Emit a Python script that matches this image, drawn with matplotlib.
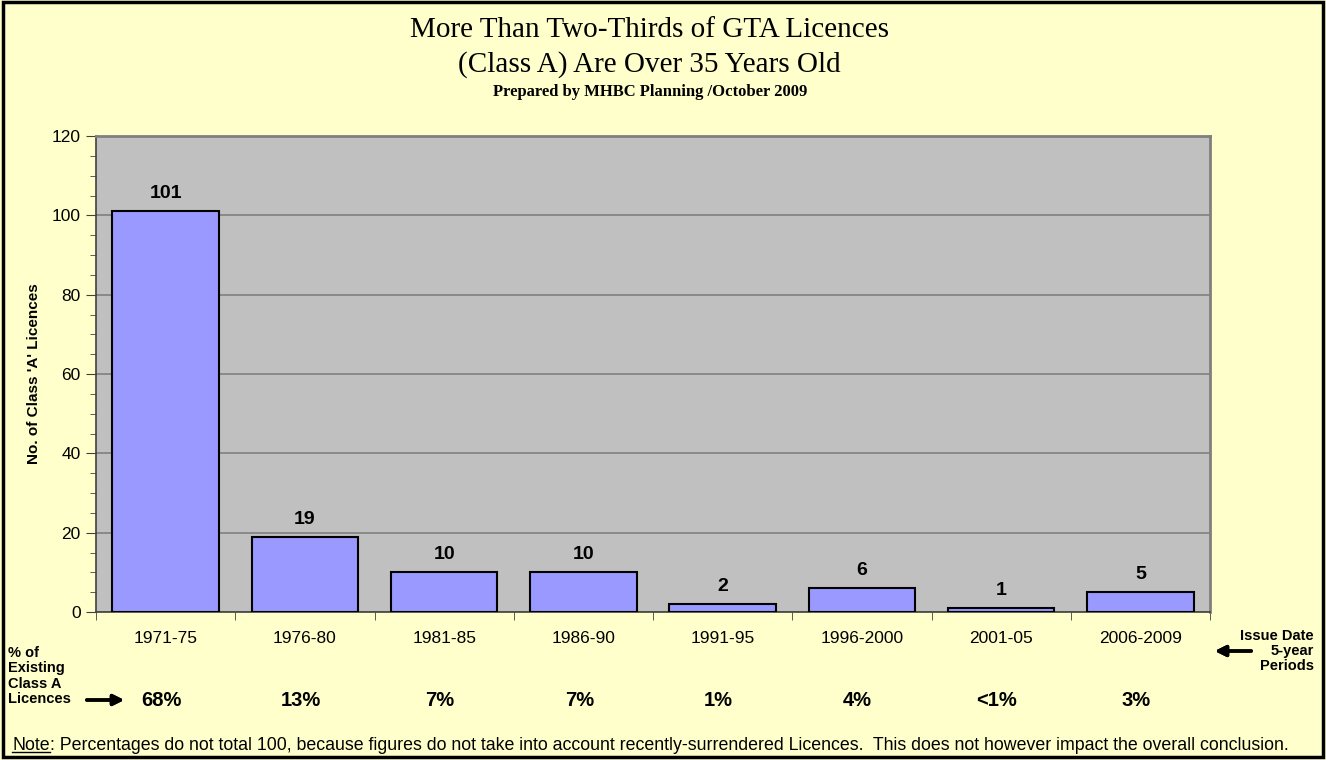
import numpy as np
import matplotlib.pyplot as plt
from matplotlib.patches import Rectangle
from matplotlib.lines import Line2D
import matplotlib.transforms as mtransforms

plt.rcParams['font.family'] = ['Liberation Sans', 'DejaVu Sans']

# data
periods = ["1971-75", "1976-80", "1981-85", "1986-90", "1991-95", "1996-2000", "2001-05", "2006-2009"]
counts = [101, 19, 10, 10, 2, 6, 1, 5]
shares = ["68%", "13%", "7%", "7%", "1%", "4%", "<1%", "3%"]

bg = '#FFFFCC'
fig = plt.figure(figsize=(13.26, 7.6), dpi=100, facecolor=bg)
ax = fig.add_axes([96/1326, 1 - 612/760, 1114/1326, 476/760])
ax.set_facecolor('#C0C0C0')

x = np.arange(len(periods))
ax.bar(x, counts, width=0.765, color='#9999FF', edgecolor='black', linewidth=1.5, zorder=3)
for xi, c in zip(x, counts):
    ax.text(xi, c + 2.3, str(c), ha='center', va='bottom', fontsize=14, fontweight='bold')

ax.set_xlim(-0.5, len(periods) - 0.5)
ax.set_ylim(0, 120)
ax.set_yticks(np.arange(0, 121, 20))
ax.set_yticks(np.arange(0, 121, 5), minor=True)
ax.yaxis.grid(True, color='#808080', linewidth=1.2, zorder=1)
ax.set_axisbelow(True)
ax.tick_params(axis='y', which='major', labelsize=12.5, length=7, color='#404040', pad=4)
ax.tick_params(axis='y', which='minor', length=4, color='#404040')
ax.set_xticks(x)
ax.set_xticklabels(periods, fontsize=12.5)
ax.tick_params(axis='x', which='major', length=0, pad=14)
ax.set_xticks(np.arange(-0.5, len(periods)), minor=True)
ax.tick_params(axis='x', which='minor', length=6, color='#404040')
for s in ['left', 'bottom']:
    ax.spines[s].set_color('#404040')
    ax.spines[s].set_linewidth(1.2)
for s in ['top', 'right']:
    ax.spines[s].set_color('#808080')
    ax.spines[s].set_linewidth(2)
ax.set_ylabel("No. of Class 'A' Licences", fontsize=11, fontweight='bold', labelpad=8)

# percentages row
trans = mtransforms.blended_transform_factory(ax.transData, fig.transFigure)
for xi, s in zip(x, shares):
    ax.text(xi - 0.03, 1 - 701/760, s, transform=trans, ha='center', va='center',
            fontsize=14.5, fontweight='bold')

fig.text(8/1326, 1 - 676/760, "% of\nExisting\nClass A\nLicences", ha='left', va='center',
         fontsize=10.5, fontweight='bold', linespacing=1.15)
fig.text(1314/1326, 1 - 651/760, "Issue Date\n5-year\nPeriods", ha='right', va='center',
         fontsize=10.5, fontweight='bold', linespacing=1.1, multialignment='right')
fig.add_artist(plt.annotate('', xy=(127/1326, 1 - 700/760), xytext=(84/1326, 1 - 700/760),
                            xycoords='figure fraction',
                            arrowprops=dict(arrowstyle='-|>', color='black', lw=2.5, mutation_scale=16)))
fig.add_artist(plt.annotate('', xy=(1212/1326, 1 - 651/760), xytext=(1254/1326, 1 - 651/760),
                            xycoords='figure fraction',
                            arrowprops=dict(arrowstyle='-|>', color='black', lw=2.5, mutation_scale=16)))

# titles
fig.text(0.49, 1 - 30/760, "More Than Two-Thirds of GTA Licences", ha='center', va='center',
         fontsize=21, family='Liberation Serif')
fig.text(0.49, 1 - 65/760, "(Class A) Are Over 35 Years Old", ha='center', va='center',
         fontsize=21, family='Liberation Serif')
fig.text(0.49, 1 - 92/760, "Prepared by MHBC Planning /October 2009", ha='center', va='center',
         fontsize=12, family='Liberation Serif', fontweight='bold')

# note
note = fig.text(12/1326, 1 - 745/760, "Note", ha='left', va='center', fontsize=12.8)
fig.canvas.draw()
bb = note.get_window_extent().transformed(fig.transFigure.inverted())
fig.text(bb.x1, 1 - 745/760,
         ": Percentages do not total 100, because figures do not take into account recently-surrendered Licences.  "
         "This does not however impact the overall conclusion.",
         ha='left', va='center', fontsize=12.8)
fig.add_artist(Line2D([bb.x0, bb.x1], [bb.y0 + 0.002, bb.y0 + 0.002], color='black', lw=1))

# border
fig.add_artist(Rectangle((0.002, 0.004), 0.996, 0.993, transform=fig.transFigure,
                         fill=False, edgecolor='black', lw=2.5))

fig.savefig('out.png', dpi=100, facecolor=bg)
